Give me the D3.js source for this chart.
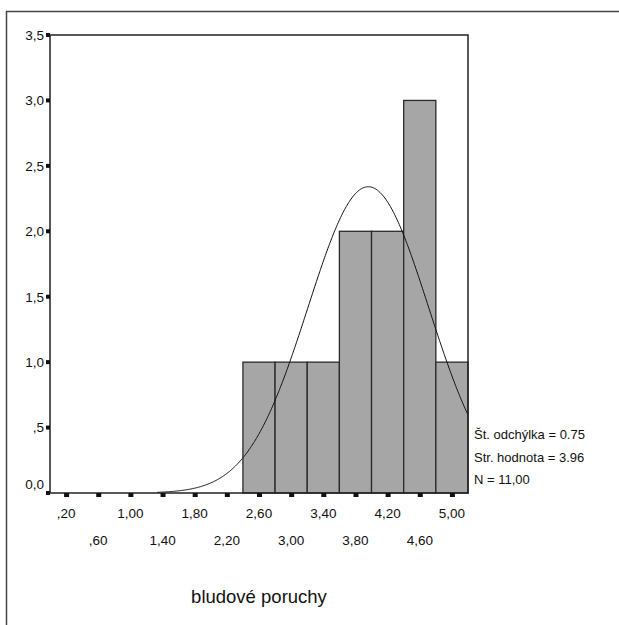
<!DOCTYPE html>
<html>
<head>
<meta charset="utf-8">
<script src="https://cdn.jsdelivr.net/npm/d3@7/dist/d3.min.js"></script>
<style>
  html, body { margin: 0; padding: 0; background: #fff; }
  svg { display: block; }
  text { font-family: "Liberation Sans", Arial, sans-serif; fill: #111; }
</style>
</head>
<body>
<svg id="chart" width="619" height="625"></svg>
<script>
// ---- data ----
const binCenters = [0.2, 0.6, 1.0, 1.4, 1.8, 2.2, 2.6, 3.0, 3.4, 3.8, 4.2, 4.6, 5.0];
const binLabels  = [",20", ",60", "1,00", "1,40", "1,80", "2,20", "2,60", "3,00", "3,40", "3,80", "4,20", "4,60", "5,00"];
const counts     = [0, 0, 0, 0, 0, 0, 1, 1, 1, 2, 2, 3, 1];
const binWidth = 0.4;
const yTickValues = [0, 0.5, 1.0, 1.5, 2.0, 2.5, 3.0, 3.5];
const yTickLabels = ["0,0", ",5", "1,0", "1,5", "2,0", "2,5", "3,0", "3,5"];
const statMean = 3.96;
const statSd = 0.75;
const statN = 11;
const statLines = ["Št. odchýlka = 0.75", "Str. hodnota = 3.96", "N = 11,00"];
const axisTitle = "bludové poruchy";

// ---- layout ----
const svg = d3.select("#chart");
const L = 50, R = 468, T = 35, B = 493;
const x = d3.scaleLinear().domain([0, 5.2]).range([L, R]);
const y = d3.scaleLinear().domain([0, 3.5]).range([B, T]);

// outer frame (top + left)
svg.append("path")
  .attr("d", `M6.5,625 L6.5,11.5 L619,11.5`)
  .attr("fill", "none").attr("stroke", "#444").attr("stroke-width", 1.5);

// bars
svg.append("g").selectAll("rect")
  .data(binCenters.map((c, i) => ({c, n: counts[i]})).filter(d => d.n > 0))
  .join("rect")
  .attr("x", d => x(d.c - binWidth / 2))
  .attr("width", d => x(d.c + binWidth / 2) - x(d.c - binWidth / 2))
  .attr("y", d => y(d.n))
  .attr("height", d => y(0) - y(d.n))
  .attr("fill", "#a6a6a6")
  .attr("stroke", "#2a2a2a")
  .attr("stroke-width", 1.3);

// normal curve from the reported statistics
const peak = statN * binWidth / (statSd * Math.sqrt(2 * Math.PI));
const xs = d3.range(statMean - 3.5 * statSd, 5.2 + 1e-9, 0.01);
const curve = xs.map(v => [v, peak * Math.exp(-0.5 * Math.pow((v - statMean) / statSd, 2))]);
svg.append("path")
  .datum(curve)
  .attr("d", d3.line().x(d => x(d[0])).y(d => y(d[1])))
  .attr("fill", "none").attr("stroke", "#111").attr("stroke-width", 1);

// plot box
svg.append("rect")
  .attr("x", L).attr("y", T).attr("width", R - L).attr("height", B - T)
  .attr("fill", "none").attr("stroke", "#222").attr("stroke-width", 1.5);

// y ticks
const yg = svg.append("g");
yg.selectAll("rect").data(yTickValues).join("rect")
  .attr("x", L - 4).attr("y", d => y(d) - 2).attr("width", 4).attr("height", 4)
  .attr("fill", "#111");
yg.selectAll("text").data(yTickValues).join("text")
  .attr("x", L - 6)
  .attr("y", d => y(d) + (d === 0 ? -9 : 0))
  .attr("dy", "0.36em")
  .attr("text-anchor", "end")
  .attr("font-size", 13.5)
  .text((d, i) => yTickLabels[i]);

// x ticks
const xg = svg.append("g");
xg.selectAll("rect").data(binCenters).join("rect")
  .attr("x", d => x(d) - 2).attr("y", B).attr("width", 5).attr("height", 4)
  .attr("fill", "#111");
xg.selectAll("text").data(binCenters).join("text")
  .attr("x", d => x(d))
  .attr("y", (d, i) => i % 2 === 0 ? 518 : 545)
  .attr("text-anchor", "middle")
  .attr("font-size", 13.5)
  .text((d, i) => binLabels[i]);

// stats box
svg.append("g").selectAll("text").data(statLines).join("text")
  .attr("x", 474)
  .attr("y", (d, i) => 439 + i * 22.5)
  .attr("font-size", 13)
  .text(d => d);

// axis title
svg.append("text")
  .attr("x", 259).attr("y", 603)
  .attr("text-anchor", "middle")
  .attr("font-size", 18.5)
  .text(axisTitle);
</script>
</body>
</html>
